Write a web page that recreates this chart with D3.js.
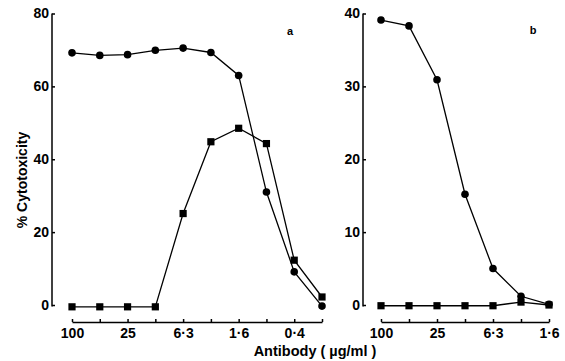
<!DOCTYPE html>
<html>
<head>
<meta charset="utf-8">
<script src="https://cdnjs.cloudflare.com/ajax/libs/d3/7.8.5/d3.min.js"></script>
<style>
  body { margin: 0; background: #fff; }
  svg text { font-family: "Liberation Sans", Arial, sans-serif; font-weight: bold; fill: #000; }
  .axis path, .axis line { stroke: #000; stroke-width: 1.5; }
  .axis text { font-size: 14px; }
</style>
</head>
<body>
<svg id="chart" width="565" height="361"></svg>
<script>
////////////////////////////////////////////////////////////////////////////
// Data
var concA = ["100","50","25","12.5","6.3","3.1","1.6","0.8","0.4","0.2"];
var tickLabelsA = ["100","","25","","6·3","","1·6","","0·4",""];
var circlesA = [69.2, 68.5, 68.7, 69.9, 70.5, 69.3, 63, 31, 9.1, -0.3];
var squaresA = [-0.5, -0.5, -0.5, -0.5, 25.1, 44.8, 48.5, 44.3, 12.3, 2.2];
var yTicksA = [0, 20, 40, 60, 80];

var concB = ["100","50","25","12.5","6.3","3.1","1.6"];
var tickLabelsB = ["100","","25","","6·3","","1·6"];
var circlesB = [39.1, 38.3, 30.9, 15.2, 5.0, 1.2, 0.1];
var squaresB = [-0.1, -0.1, -0.1, -0.1, -0.1, 0.4, 0.0];
var yTicksB = [0, 10, 20, 30, 40];

var svg = d3.select("#chart");

// one panel
function drawPanel(cfg) {
  var x = d3.scalePoint().domain(cfg.conc).range(cfg.xRange);
  var y = d3.scaleLinear().domain(cfg.yDomain).range([305, 13.5]);

  // y axis, ticks point inward
  svg.append("g")
     .attr("class", "axis")
     .attr("transform", "translate(" + cfg.yAxisX + ",0)")
     .call(d3.axisLeft(y).tickValues(cfg.yTicks).tickSizeInner(-3).tickSizeOuter(0).tickPadding(3))
     .call(function(g) { g.select(".domain").attr("d", "M0," + y(cfg.yDomain[1]) + "V306.5"); });

  // x axis sits below the data, ticks point up
  svg.append("g")
     .attr("class", "axis")
     .attr("transform", "translate(0,322)")
     .call(d3.axisBottom(x).tickSizeInner(-3).tickSizeOuter(0).tickPadding(6)
             .tickFormat(function(d, i) { return cfg.labels[i]; }));

  var line = d3.line()
               .x(function(d, i) { return x(cfg.conc[i]); })
               .y(function(d) { return y(d); });

  [cfg.squares, cfg.circles].forEach(function(s) {
    svg.append("path")
       .datum(s)
       .attr("d", line)
       .attr("fill", "none")
       .attr("stroke", "#000")
       .attr("stroke-width", 1.3);
  });

  svg.selectAll(null)
     .data(cfg.squares)
     .enter()
     .append("rect")
     .attr("x", function(d, i) { return x(cfg.conc[i]) - 3.6; })
     .attr("y", function(d) { return y(d) - 3.6; })
     .attr("width", 7.2)
     .attr("height", 7.2)
     .attr("fill", "#000");

  svg.selectAll(null)
     .data(cfg.circles)
     .enter()
     .append("circle")
     .attr("cx", function(d, i) { return x(cfg.conc[i]); })
     .attr("cy", function(d) { return y(d); })
     .attr("r", 3.8)
     .attr("fill", "#000");

  svg.append("text")
     .attr("x", cfg.tag[1])
     .attr("y", cfg.tag[2])
     .attr("text-anchor", "middle")
     .style("font-size", "11px")
     .text(cfg.tag[0]);
}

drawPanel({ conc: concA, labels: tickLabelsA, circles: circlesA, squares: squaresA,
            yDomain: [0, 80], yTicks: yTicksA, xRange: [72, 322], yAxisX: 52,
            tag: ["a", 290, 35] });
drawPanel({ conc: concB, labels: tickLabelsB, circles: circlesB, squares: squaresB,
            yDomain: [0, 40], yTicks: yTicksB, xRange: [381, 549], yAxisX: 363,
            tag: ["b", 533, 34] });

// axis titles
svg.append("text")
   .attr("transform", "translate(27,180) rotate(-90)")
   .attr("text-anchor", "middle")
   .style("font-size", "14px")
   .text("% Cytotoxicity");

svg.append("text")
   .attr("x", 315)
   .attr("y", 356)
   .attr("text-anchor", "middle")
   .style("font-size", "14.5px")
   .text("Antibody ( µg/ml )");
</script>
</body>
</html>
